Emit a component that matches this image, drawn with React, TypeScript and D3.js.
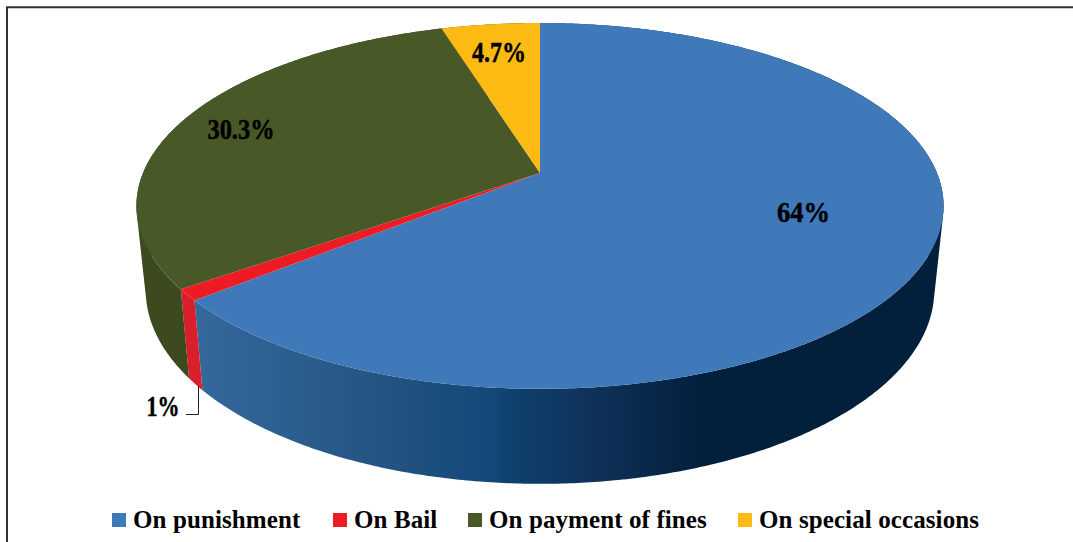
import React from "react";
import * as d3 from "d3";

const categories = ["On punishment", "On Bail", "On payment of fines", "On special occasions"];
const values = [64, 1, 30.3, 4.7];
const labels = ["64%", "1%", "30.3%", "4.7%"];
const topColors = ["#3f79b9", "#ed1c24", "#485827", "#fcba12"];
const sideColors = ["url(#blueSide)", "#d81f2a", "#3d4a1f", "#3d4a1f"];
const legendX = [112, 333, 468, 738];
const labelPos: [number, number][] = [[803.5, 222], [163, 416], [241, 139], [499, 62]];
const labelWidths = [53, 33, 67, 54];
const gradStops = [190, 400, 490, 510, 600, 700, 945];
const gradColors = ["#36699c", "#215280", "#144879", "#0f416e", "#0f3058", "#02203c", "#02203c"];

const W = 1073, H = 542;
const cx = 540, apexY = 173;
const k = -0.18, bY = 177, rX = 397;
const depthScaleX = 0.977, depthScaleY = 1.06, bottomY = 484, topBottomY = 389;

type P = [number, number];
function proj(a: number): P {
  const x = Math.sin(a), y = -Math.cos(a);
  const w = 1 + k * y;
  return [cx + (rX * x) / w, apexY + (bY * y) / w];
}
function low(p: P): P {
  return [cx + depthScaleX * (p[0] - cx), bottomY + depthScaleY * (p[1] - topBottomY)];
}

const pie = d3.pie<number>().sort(null).startAngle(0).endAngle(2 * Math.PI);
const arcs = pie(values);
const offset = d3.scaleLinear().domain([gradStops[0], gradStops[gradStops.length - 1]]).range([0, 1]);

function anglesOf(a0: number, a1: number) {
  const n = Math.max(2, Math.ceil((a1 - a0) / (Math.PI / 360)));
  return d3.range(n + 1).map((i) => a0 + ((a1 - a0) * i) / n);
}
const line = d3.line();

function sidePath(a0: number, a1: number) {
  const as = anglesOf(a0, a1);
  return as.slice(1).map((a, j) => {
    const p0 = proj(as[j]), p1 = proj(a);
    const quad: P[] = [p0, p1, low(p1), low(p0)];
    if (d3.polygonArea(quad) < 0) quad.reverse();
    return line(quad) + "Z";
  }).join("");
}

export default function App() {
  return (
    <svg width={W} height={H} style={{ position: "absolute", left: 0, top: 0, background: "#fff" }}>
      <defs>
        <linearGradient id="blueSide" gradientUnits="userSpaceOnUse" x1={gradStops[0]} x2={gradStops[gradStops.length - 1]} y1={0} y2={0}>
          {gradStops.map((s, i) => <stop key={s} offset={offset(s)} stopColor={gradColors[i]} />)}
        </linearGradient>
      </defs>
      <path d={`M7 ${H}V7.3H${W}`} fill="none" stroke="#333" strokeWidth={2} />
      {arcs.map((d, i) => (
        <path key={i} d={sidePath(d.startAngle, d.endAngle)} fill={sideColors[i]} fillRule="nonzero" />
      ))}
      {arcs.map((d, i) => {
        const pts = anglesOf(d.startAngle, d.endAngle).map(proj);
        return <path key={i} d={line([[cx, apexY], ...pts])! + "Z"} fill={topColors[i]} />;
      })}
      <path d="M198.5 386V414.5H186" fill="none" stroke="#222" strokeWidth={1} />
      {labels.map((t, i) => (
        <text key={t} x={labelPos[i][0] - labelWidths[i] / 2} y={labelPos[i][1]}
          fontFamily="'Liberation Serif', serif" fontWeight="bold" fontSize={30}
          textLength={labelWidths[i]} lengthAdjust="spacingAndGlyphs"
          stroke="#000" strokeWidth={0.5}>{t}</text>
      ))}
      {categories.map((c, i) => (
        <g key={c}>
          <rect x={legendX[i]} y={513} width={14} height={14} fill={topColors[i]} />
          <text x={legendX[i] + 21} y={528} fontFamily="'Liberation Serif', serif" fontWeight="bold" fontSize={25}
            letterSpacing={0.1} fill="#000">{c}</text>
        </g>
      ))}
    </svg>
  );
}
